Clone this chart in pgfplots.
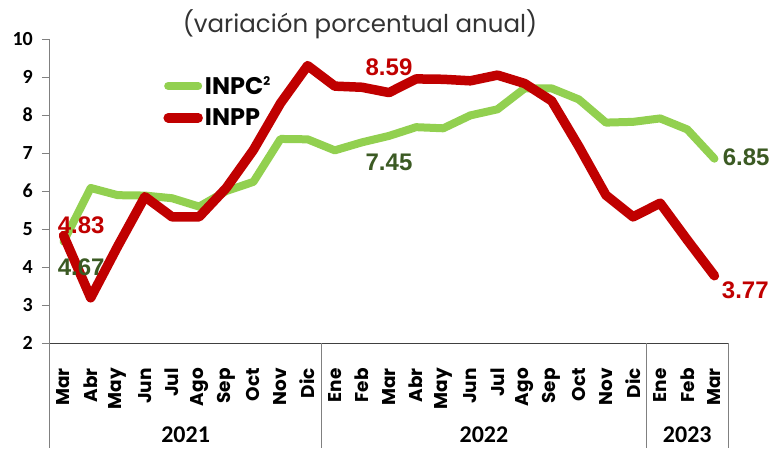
\documentclass[border=0pt]{standalone}
\usepackage{pgfplots}
\pgfplotsset{compat=1.18}
\usepackage{fontspec}
\setmainfont{Poppins}
\newfontfamily\carlito{Carlito}
\newfontfamily\libsans{Liberation Sans}
\definecolor{cgreen}{HTML}{92D050}
\definecolor{cred}{HTML}{C00000}
\definecolor{dgreen}{HTML}{3B5A23}
\definecolor{axgray}{HTML}{808080}
\begin{document}
\begin{tikzpicture}
\useasboundingbox (0,0) rectangle (774pt,448pt);
\node[font=\fontsize{24.5}{26}\selectfont, text=black!80, anchor=center] at (360pt,424pt) {(variación porcentual anual)};
\begin{axis}[
  at={(50pt,105pt)}, anchor=south west,
  scale only axis, width=678pt, height=304pt,
  xmin=-0.5, xmax=24.5, ymin=2, ymax=10,
  ytick={2,3,4,5,6,7,8,9,10},
  xtick={0,...,24},
  xticklabels={Mar,Abr,May,Jun,Jul,Ago,Sep,Oct,Nov,Dic,Ene,Feb,Mar,Abr,May,Jun,Jul,Ago,Sep,Oct,Nov,Dic,Ene,Feb,Mar},
  axis x line*=bottom, axis y line*=left,
  x axis line style={black!75, line width=1pt},
  y axis line style={axgray, line width=1pt},
  xtick style={draw=none},
  ytick style={axgray, line width=1pt},
  tick align=outside, major tick length=8pt,
  /pgf/number format/assume math mode=true,
  yticklabel style={font=\carlito\bfseries\fontsize{20}{20}\selectfont, inner sep=0pt, xshift=-9pt},
  xticklabel style={font=\bfseries\fontsize{18.5}{18.5}\selectfont, rotate=90, anchor=east, inner sep=0pt},
  xticklabel shift=17pt,
  clip=false,
  legend style={draw=none, fill=none, at={(0.167,0.885)}, anchor=north west,
    font=\bfseries\fontsize{24}{24}\selectfont, row sep=9pt, inner sep=0pt,
    /tikz/every even column/.append style={column sep=2pt}},
  legend cell align=left,
  legend image code/.code={\draw[#1, line cap=round] (0pt,0pt) -- (30pt,0pt);},
]
\addplot[cgreen, line width=8pt, line join=round, line cap=round] coordinates {
(0,4.67) (1,6.08) (2,5.89) (3,5.88) (4,5.81) (5,5.59) (6,6.00) (7,6.24) (8,7.37) (9,7.36)
(10,7.07) (11,7.28) (12,7.45) (13,7.68) (14,7.65) (15,7.99) (16,8.15) (17,8.70) (18,8.70) (19,8.41) (20,7.80) (21,7.82)
(22,7.91) (23,7.62) (24,6.85)};
\addlegendentry{INPC\raisebox{9pt}{\fontsize{12}{12}\selectfont 2}}
\addplot[cred, line width=9.5pt, line join=round, line cap=round] coordinates {
(0,4.83) (1,3.19) (2,4.55) (3,5.85) (4,5.32) (5,5.32) (6,6.08) (7,7.08) (8,8.31) (9,9.30)
(10,8.76) (11,8.73) (12,8.59) (13,8.95) (14,8.94) (15,8.90) (16,9.05) (17,8.83) (18,8.37) (19,7.17) (20,5.89) (21,5.32)
(22,5.68) (23,4.71) (24,3.77)};
\addlegendentry{INPP}
% data labels
\begin{scope}[every node/.style={font=\libsans\bfseries\fontsize{24}{24}\selectfont, inner sep=0pt}]
\node[text=cred] at (axis cs:0.65,5.1) {4.83};
\node[text=dgreen] at (axis cs:0.65,4.0) {4.67};
\node[text=cred] at (axis cs:12,9.25) {8.59};
\node[text=dgreen] at (axis cs:12,6.75) {7.45};
\node[text=dgreen, anchor=west] at (axis cs:24.3,6.88) {6.85};
\node[text=cred, anchor=west] at (axis cs:24.27,3.4) {3.77};
\end{scope}
% separators
\draw[axgray, line width=1pt] (axis cs:-0.5,2) -- ++(0pt,-105pt);
\draw[axgray, line width=1pt] (axis cs:9.5,2) -- ++(0pt,-105pt);
\draw[axgray, line width=1pt] (axis cs:21.5,2) -- ++(0pt,-105pt);
\draw[axgray, line width=1pt] (axis cs:24.5,2) -- ++(0pt,-105pt);
% years
\begin{scope}[every node/.style={font=\carlito\bfseries\fontsize{24}{24}\selectfont, inner sep=0pt, anchor=center}]
\node at ([yshift=-92pt]axis cs:4.5,2) {2021};
\node at ([yshift=-92pt]axis cs:15.5,2) {2022};
\node at ([yshift=-92pt]axis cs:23,2) {2023};
\end{scope}
\end{axis}
\end{tikzpicture}
\end{document}
